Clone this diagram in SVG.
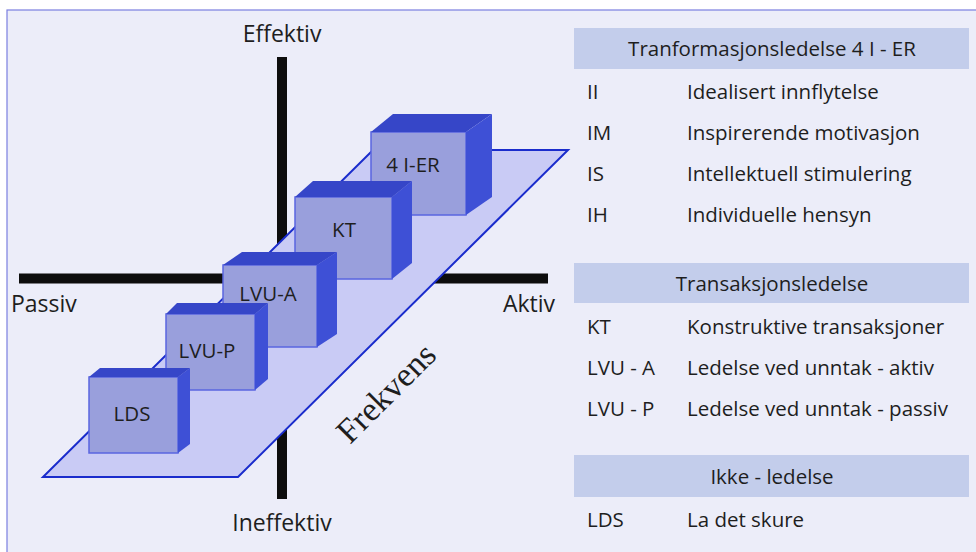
<svg xmlns="http://www.w3.org/2000/svg" width="976" height="552" viewBox="0 0 976 552">
<style>
text{font-family:"Open Sans","Noto Sans","Liberation Sans",sans-serif;fill:#1e1e1e}
.ax{font-size:23px}
.lbl{font-size:20.5px;text-anchor:middle}
.row{font-size:20.5px}
.hdr{font-size:20.5px;text-anchor:middle}
.front{fill:#999fdc;stroke:#5a66e0;stroke-width:1.5}
.top{fill:#3646c8}
.side{fill:#3e50d6}
.hbox{fill:#c3cdeb}
</style>
<rect x="0" y="0" width="976" height="552" fill="#ffffff"/>
<rect id="panel" x="7" y="10" width="975" height="550" fill="#ecedf9" stroke="#7b7fe0" stroke-width="1.2"/>
<g id="axes" stroke="#0d0d0d" stroke-width="10">
<line x1="282" y1="57" x2="282" y2="499"/>
<line x1="19" y1="278.5" x2="548" y2="278.5"/>
</g>
<g id="plane">
<polygon points="43,477 238,477 568,150 373,150" fill="#c9cbf5" stroke="#1a2ccc" stroke-width="2"/>
</g>
<g id="box-4ier">
<rect class="front" x="371" y="132" width="95" height="83"/>
<polygon class="top" points="371,132 393,114 492,114 466,132"/>
<polygon class="side" points="466,132 492,114 492,197 466,215"/>
<text class="lbl" x="413" y="172">4 I-ER</text>
</g>
<g id="box-kt">
<rect class="front" x="295" y="197" width="97" height="82"/>
<polygon class="top" points="295,197 313,181 412,181 392,197"/>
<polygon class="side" points="392,197 412,181 412,263 392,279"/>
<text class="lbl" x="344" y="237">KT</text>
</g>
<g id="box-lvua">
<rect class="front" x="223" y="265" width="94" height="82"/>
<polygon class="top" points="223,265 242,252 337,252 317,265"/>
<polygon class="side" points="317,265 337,252 337,334 317,347"/>
<text class="lbl" x="268" y="301">LVU-A</text>
</g>
<g id="box-lvup">
<rect class="front" x="166" y="314" width="89" height="76"/>
<polygon class="top" points="166,314 177,303 268,303 255,314"/>
<polygon class="side" points="255,314 268,303 268,379 255,390"/>
<text class="lbl" x="207" y="358">LVU-P</text>
</g>
<g id="box-lds">
<rect class="front" x="89" y="377" width="89" height="76"/>
<polygon class="top" points="89,377 100,368 190,368 178,377"/>
<polygon class="side" points="178,377 190,368 190,444 178,453"/>
<text class="lbl" x="132" y="421">LDS</text>
</g>
<text x="350" y="445" transform="rotate(-45 350 445)" style="font-family:'Liberation Serif','Times New Roman',serif;font-size:34px">Frekvens</text>
<g id="axis-labels">
<text class="ax" x="282" y="42" text-anchor="middle">Effektiv</text>
<text class="ax" x="11" y="312">Passiv</text>
<text class="ax" x="555" y="312" text-anchor="end">Aktiv</text>
<text class="ax" x="282" y="531" text-anchor="middle">Ineffektiv</text>
</g>
<g id="legend-transform">
<rect class="hbox" x="574" y="28" width="395" height="41"/>
<text class="hdr" x="772" y="56">Tranformasjonsledelse 4 I - ER</text>
<text class="row" x="587" y="99">II</text><text class="row" x="687" y="99">Idealisert innflytelse</text>
<text class="row" x="587" y="140">IM</text><text class="row" x="687" y="140">Inspirerende motivasjon</text>
<text class="row" x="587" y="181">IS</text><text class="row" x="687" y="181">Intellektuell stimulering</text>
<text class="row" x="587" y="222">IH</text><text class="row" x="687" y="222">Individuelle hensyn</text>
</g>
<g id="legend-transaction">
<rect class="hbox" x="574" y="263" width="395" height="40"/>
<text class="hdr" x="772" y="291">Transaksjonsledelse</text>
<text class="row" x="587" y="334">KT</text><text class="row" x="687" y="334">Konstruktive transaksjoner</text>
<text class="row" x="587" y="375">LVU - A</text><text class="row" x="687" y="375">Ledelse ved unntak - aktiv</text>
<text class="row" x="587" y="416">LVU - P</text><text class="row" x="687" y="416">Ledelse ved unntak - passiv</text>
</g>
<g id="legend-none">
<rect class="hbox" x="574" y="455" width="395" height="42"/>
<text class="hdr" x="772" y="484">Ikke - ledelse</text>
<text class="row" x="587" y="527">LDS</text><text class="row" x="687" y="527">La det skure</text>
</g>
</svg>
